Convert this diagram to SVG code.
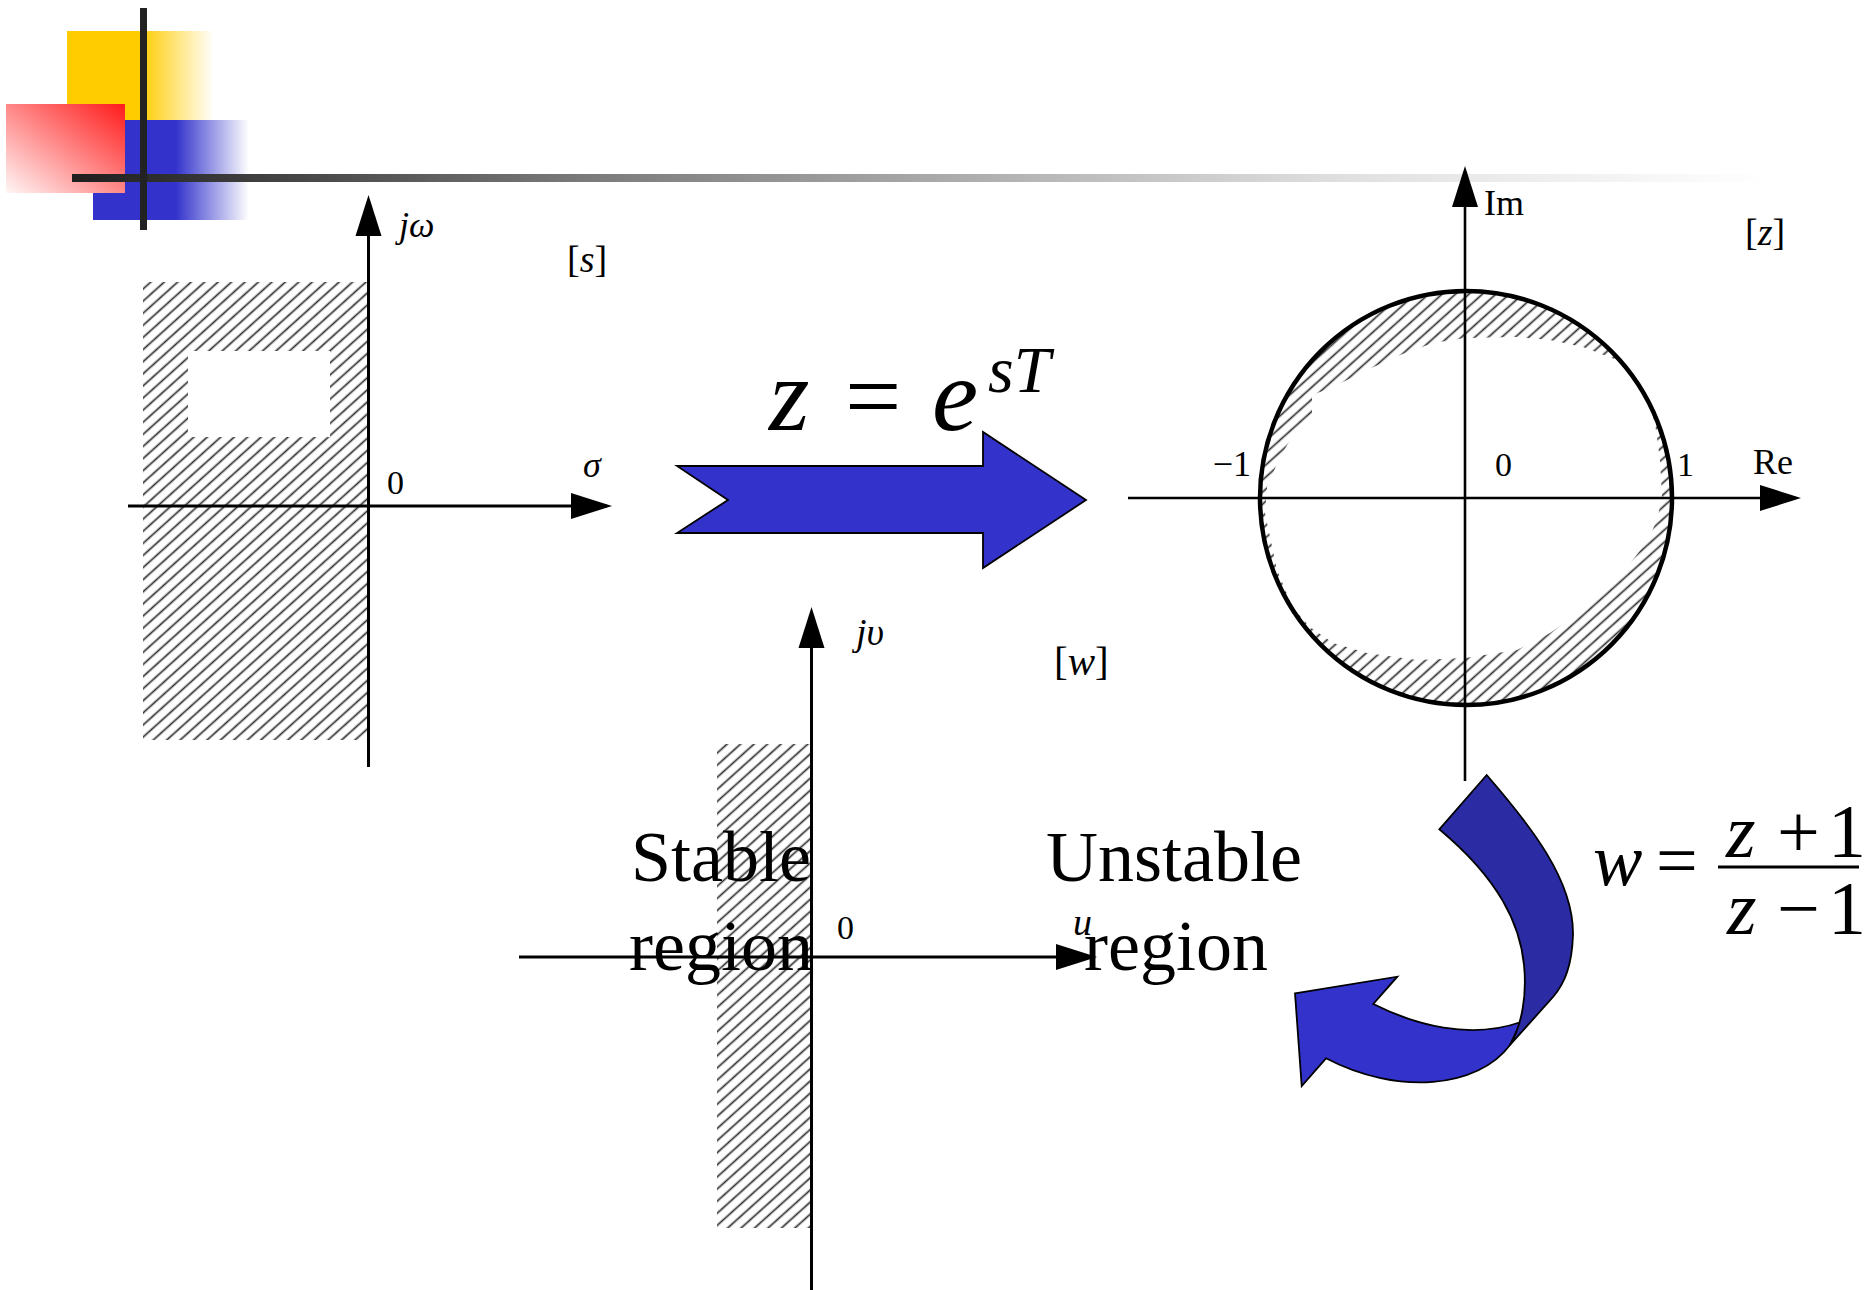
<svg xmlns="http://www.w3.org/2000/svg" width="1865" height="1290" viewBox="0 0 1865 1290">
<style>
  text { font-family: "Liberation Serif", "Times New Roman", serif; fill: #000; }
  .it { font-style: italic; }
  .sm { font-size: 34px; }
  .br { font-size: 38px; }
  .big { font-size: 72px; }
  .axis { stroke: #000; stroke-width: 3; fill: none; }
  .axisz { stroke: #000; stroke-width: 2.6; fill: none; }
  .hatch { fill: url(#hatch); }
  .arrowfill { stroke: #000; stroke-width: 1.8; stroke-linejoin: miter; }
</style>
<defs>
  <pattern id="hatch" patternUnits="userSpaceOnUse" width="18" height="9" patternTransform="rotate(-42)">
    <path d="M-1,4.5 L19,4.5" stroke="#2e2e2e" stroke-width="1.7"/>
  </pattern>
  <linearGradient id="gYellow" x1="0" y1="0" x2="1" y2="0">
    <stop offset="0" stop-color="#ffcc00"/>
    <stop offset="0.5" stop-color="#ffcc00"/>
    <stop offset="1" stop-color="#ffcc00" stop-opacity="0"/>
  </linearGradient>
  <linearGradient id="gBlue" x1="0" y1="0" x2="1" y2="0">
    <stop offset="0" stop-color="#3333cc"/>
    <stop offset="0.53" stop-color="#3333cc"/>
    <stop offset="1" stop-color="#3333cc" stop-opacity="0"/>
  </linearGradient>
  <linearGradient id="gRed" x1="1" y1="0" x2="0" y2="1">
    <stop offset="0" stop-color="#ff1a1a"/>
    <stop offset="1" stop-color="#fff6f6"/>
  </linearGradient>
  <linearGradient id="gLine" gradientUnits="userSpaceOnUse" x1="72" y1="0" x2="1770" y2="0">
    <stop offset="0" stop-color="#1e1e1e"/>
    <stop offset="0.3" stop-color="#7a7a7a"/>
    <stop offset="0.75" stop-color="#e0e0e0"/>
    <stop offset="1" stop-color="#ffffff"/>
  </linearGradient>
  <marker id="ah" markerUnits="userSpaceOnUse" markerWidth="41" markerHeight="28" refX="36" refY="14" orient="auto" viewBox="0 0 41 28">
    <path d="M0,1 L41,14 L0,27 Z" fill="#000"/>
  </marker>
  <clipPath id="circClip">
    <ellipse cx="1466" cy="498" rx="206" ry="207"/>
  </clipPath>
</defs>

<g id="decoration">
  <rect x="67" y="31" width="147" height="89" fill="url(#gYellow)"/>
  <rect x="93" y="120" width="156" height="100" fill="url(#gBlue)"/>
  <rect x="6" y="104" width="119" height="89" fill="url(#gRed)"/>
  <rect x="72" y="174" width="1698" height="8" fill="url(#gLine)"/>
  <rect x="140" y="8" width="7" height="222" fill="#222"/>
</g>

<g id="s-plane">
  <rect x="143" y="282" width="226" height="458" class="hatch"/>
  <rect x="188" y="351" width="142" height="86" fill="#fff"/>
  <line x1="368.5" y1="767" x2="368.5" y2="200" class="axis" marker-end="url(#ah)"/>
  <line x1="128" y1="506" x2="607" y2="506" class="axis" marker-end="url(#ah)"/>
  <text x="399" y="237" class="it" style="font-size:36px">jω</text>
  <text x="567" y="272" class="br">[<tspan class="it">s</tspan>]</text>
  <text x="387" y="494" class="sm">0</text>
  <text x="583" y="477" class="it" style="font-size:36px">σ</text>
</g>

<g id="z-plane">
  <ellipse cx="1466" cy="498" rx="206" ry="207" class="hatch"/>
  <polygon clip-path="url(#circClip)" fill="#fff" points="1465,338 1517,337 1550,340 1583,347 1617,360 1643,387 1655,423 1660,460 1662,497 1657,520 1648,540 1635,557 1617,580 1583,610 1550,633 1517,650 1465,658 1417,660 1367,653 1333,643 1310,627 1293,608 1277,570 1265,513 1267,487 1280,457 1295,432 1312,420 1312,395 1333,387 1367,370 1400,355 1433,343"/>
  <ellipse cx="1466" cy="498" rx="206" ry="207" fill="none" stroke="#000" stroke-width="4.5"/>
  <line x1="1465" y1="781" x2="1465" y2="171" class="axisz" marker-end="url(#ah)"/>
  <line x1="1128" y1="498" x2="1796" y2="498" class="axisz" marker-end="url(#ah)"/>
  <text x="1484" y="215" style="font-size:36px">Im</text>
  <text x="1745" y="245" class="br">[<tspan class="it">z</tspan>]</text>
  <text x="1251" y="476" text-anchor="end" style="font-size:36px">−1</text>
  <text x="1495" y="476" class="sm">0</text>
  <text x="1677" y="476" class="sm">1</text>
  <text x="1753" y="474" style="font-size:36px">Re</text>
</g>

<g id="w-plane">
  <rect x="717" y="744" width="95" height="484" class="hatch"/>
  <line x1="811.5" y1="1290" x2="811.5" y2="612" class="axis" marker-end="url(#ah)"/>
  <line x1="519" y1="957" x2="1092" y2="957" class="axis" marker-end="url(#ah)"/>
  <text x="856" y="645" class="it" style="font-size:38px">jυ</text>
  <text x="1054" y="675" class="br" style="font-size:41px">[<tspan class="it">w</tspan>]</text>
  <text x="837" y="939" class="sm">0</text>
  <text x="1073" y="935" class="it" style="font-size:38px">u</text>
  <text x="721" y="881" class="big" text-anchor="middle">Stable</text>
  <text x="721" y="970" class="big" text-anchor="middle">region</text>
  <text x="1174" y="881" class="big" text-anchor="middle">Unstable</text>
  <text x="1176" y="970" class="big" text-anchor="middle">region</text>
</g>

<g id="connectors">
  <g id="map-s-to-z">
    <polygon class="arrowfill" fill="#3333cc" points="677,466 983,466 983,432 1086,500 983,568 983,533 677,533 728,500"/>
    <text x="769" y="430" class="it" style="font-size:104px">z</text>
    <text x="845" y="430" style="font-size:100px">=</text>
    <text x="932" y="430" class="it" style="font-size:104px">e</text>
    <text x="988" y="392" class="it" style="font-size:66px">sT</text>
  </g>
  <g id="map-z-to-w">
    <path class="arrowfill" fill="#3333cc" d="M1295,993.3 L1397.3,976.7 L1373.3,1004 C1415,1025 1470,1040 1521,1022 L1510,1045 C1478,1088 1398,1096 1326,1058.3 L1301.7,1086 Z"/>
    <path class="arrowfill" fill="#2b2ba3" d="M1439.3,829.3 L1486.7,775 C1530,825 1574,880 1573,935 C1572,965 1565,983 1553,997 L1510,1045 C1522,1025 1527,995 1524,965 C1520,925 1500,880 1439.3,829.3 Z"/>
    <text x="1593" y="885" class="it" style="font-size:74px">w</text>
    <text x="1656" y="885" style="font-size:74px">=</text>
    <line x1="1718" y1="867" x2="1859" y2="867" stroke="#000" stroke-width="3"/>
    <text x="1726" y="857" class="it" style="font-size:76px">z</text>
    <text x="1777" y="857" style="font-size:76px">+</text>
    <text x="1828" y="857" style="font-size:76px">1</text>
    <text x="1727" y="934" class="it" style="font-size:76px">z</text>
    <text x="1777" y="934" style="font-size:76px">−</text>
    <text x="1828" y="934" style="font-size:76px">1</text>
  </g>
</g>
</svg>
